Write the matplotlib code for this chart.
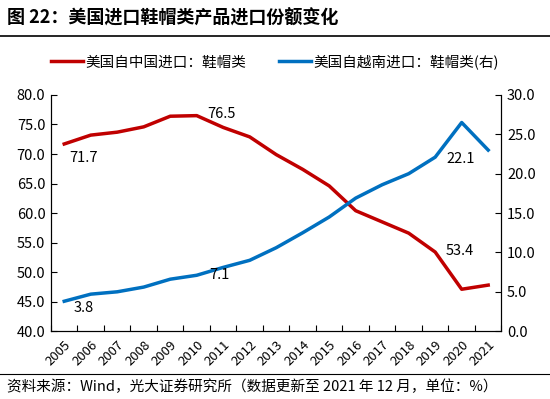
import matplotlib
matplotlib.use("Agg")
import matplotlib.pyplot as plt
import numpy as np

plt.rcParams["font.family"] = ["Noto Sans CJK SC", "DejaVu Sans"]

YEARS = [str(y) for y in range(2005, 2022)]
CHINA_SHARE = [71.7, 73.2, 73.7, 74.6, 76.4, 76.5, 74.5, 72.9, 69.9, 67.4,
               64.6, 60.4, 58.5, 56.6, 53.4, 47.1, 47.8]
VIETNAM_SHARE = [3.8, 4.7, 5.0, 5.6, 6.6, 7.1, 8.1, 9.0, 10.6, 12.5,
                 14.5, 16.9, 18.6, 20.0, 22.1, 26.5, 23.0]

CHINA_LABEL = "美国自中国进口：鞋帽类"
VIETNAM_LABEL = "美国自越南进口：鞋帽类(右)"
TITLE = "图 22：美国进口鞋帽类产品进口份额变化"
SOURCE = "资料来源：Wind，光大证券研究所（数据更新至 2021 年 12 月，单位：%）"

RED = "#C00000"
BLUE = "#0070C0"

fig = plt.figure(figsize=(5.5, 3.99), dpi=100)
ax = fig.add_axes([0.0927, 0.170, 0.819, 0.592])
ax2 = ax.twinx()

x = np.arange(len(YEARS))
ax.plot(x, CHINA_SHARE, color=RED, linewidth=2.5, label=CHINA_LABEL)
ax2.plot(x, VIETNAM_SHARE, color=BLUE, linewidth=2.5, label=VIETNAM_LABEL)

ax.set_xlim(-0.5, len(YEARS) - 0.5)
ax.set_ylim(40, 80)
ax2.set_ylim(0, 30)
ax.set_yticks(np.arange(40, 80.1, 5))
ax2.set_yticks(np.arange(0, 30.1, 5))
ax.set_yticklabels([f"{v:.1f}" for v in np.arange(40, 80.1, 5)], fontsize=10.5)
ax2.set_yticklabels([f"{v:.1f}" for v in np.arange(0, 30.1, 5)], fontsize=10.5)

ax.set_xticks(x)
ax.set_xticklabels(YEARS, rotation=45, ha="right", rotation_mode="anchor", fontsize=9.5)
ax.set_xticks(np.arange(-0.5, len(YEARS)), minor=True)
ax.tick_params(axis="x", which="major", length=0, pad=5)
ax.tick_params(axis="x", which="minor", direction="in", length=4, width=0.8)
ax.tick_params(axis="y", direction="in", length=4, width=0.8, pad=4)
ax2.tick_params(axis="y", direction="in", length=4, width=0.8, pad=4)

for a in (ax, ax2):
    a.spines["top"].set_visible(False)
    for s in ("left", "right", "bottom"):
        a.spines[s].set_color("black")
        a.spines[s].set_linewidth(0.8)

# value labels
for i, dx, dy in [(0, 14, -10), (5, 18, 1), (14, 18, 1)]:
    ax.annotate(f"{CHINA_SHARE[i]:.1f}", (x[i], CHINA_SHARE[i]), xytext=(dx, dy),
                textcoords="offset points", ha="center", va="center", fontsize=10.5)
for i, dx, dy in [(0, 14, -5), (5, 16, 0), (14, 18, -1)]:
    ax2.annotate(f"{VIETNAM_SHARE[i]:.1f}", (x[i], VIETNAM_SHARE[i]), xytext=(dx, dy),
                 textcoords="offset points", ha="center", va="center", fontsize=10.5)

h1, l1 = ax.get_legend_handles_labels()
h2, l2 = ax2.get_legend_handles_labels()
fig.legend(h1 + h2, l1 + l2, loc="center", bbox_to_anchor=(0.5, 0.845), ncol=2,
           frameon=False, fontsize=10.5, handlelength=2.2, handletextpad=0.2, columnspacing=2.2)

fig.text(0.012, 0.955, TITLE, fontsize=13, fontweight="bold", va="center", ha="left")
fig.add_artist(plt.Line2D([0, 1], [0.91, 0.91], color="black", linewidth=1.2, transform=fig.transFigure))
fig.add_artist(plt.Line2D([0, 1], [0.063, 0.063], color="black", linewidth=0.8, transform=fig.transFigure))
fig.text(0.012, 0.03, SOURCE, fontsize=10.5, va="center", ha="left")

fig.savefig("out.png", dpi=100)
